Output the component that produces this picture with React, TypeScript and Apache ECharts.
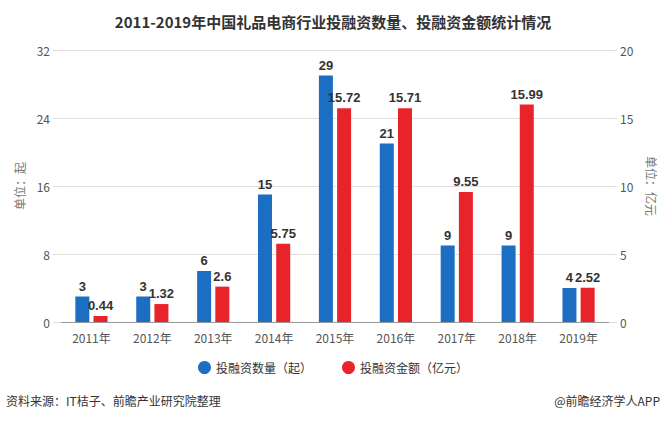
import React, { useEffect, useRef } from "react";
import * as echarts from "echarts";

const categories = ["2011年", "2012年", "2013年", "2014年", "2015年", "2016年", "2017年", "2018年", "2019年"];
const countValues = [3, 3, 6, 15, 29, 21, 9, 9, 4];
const amountValues = [0.44, 1.32, 2.6, 5.75, 15.72, 15.71, 9.55, 15.99, 2.52];
const leftTicks = { min: 0, max: 32, interval: 8 };
const rightTicks = { min: 0, max: 20, interval: 5 };

const FONT = "'Noto Sans CJK SC', 'Microsoft YaHei', sans-serif";

export default function App() {
  const ref = useRef<HTMLDivElement>(null);
  useEffect(() => {
    if (!ref.current) return;
    const chart = echarts.init(ref.current, undefined, { renderer: "svg" });
    const labelStyle = {
      show: true,
      position: "top" as const,
      color: "#333",
      fontWeight: "bold" as const,
      fontSize: 13,
      fontFamily: "Arial, sans-serif",
      distance: 4,
    };
    chart.setOption({
      animation: false,
      textStyle: { fontFamily: FONT },
      title: {
        text: "2011-2019年中国礼品电商行业投融资数量、投融资金额统计情况",
        left: "center",
        top: 9,
        textStyle: { fontSize: 15, fontWeight: "bold", color: "#333", fontFamily: FONT },
      },
      legend: {
        bottom: 43,
        left: "center",
        itemWidth: 13,
        itemHeight: 13,
        itemGap: 30,
        icon: "circle",
        textStyle: { fontSize: 12, color: "#333", fontFamily: FONT },
        data: ["投融资数量（起）", "投融资金额（亿元）"],
      },
      graphic: [
        {
          type: "text",
          left: 6,
          top: 394,
          style: { text: "资料来源：IT桔子、前瞻产业研究院整理", fontSize: 12, fill: "#333", fontFamily: FONT },
        },
        {
          type: "text",
          right: 6,
          top: 394,
          style: { text: "@前瞻经济学人APP", fontSize: 12, fill: "#333", fontFamily: FONT },
        },
      ],
      grid: { left: 61, right: 57, top: 50, bottom: 100 },
      xAxis: {
        type: "category",
        data: categories,
        axisLine: { lineStyle: { color: "#999" } },
        axisTick: { show: false },
        axisLabel: { color: "#555", fontSize: 12, margin: 9 },
      },
      yAxis: [
        {
          type: "value",
          ...leftTicks,
          name: "单位：起",
          nameLocation: "middle",
          nameGap: 36,
          nameRotate: 90,
          nameTextStyle: { color: "#777", fontSize: 12 },
          axisLine: { show: false },
          axisTick: { show: true, length: 8, lineStyle: { color: "#ddd" } },
          axisLabel: { color: "#555", fontSize: 12, margin: 11 },
          splitLine: { lineStyle: { color: "#e0e0e0" } },
        },
        {
          type: "value",
          ...rightTicks,
          name: "单位：亿元",
          nameLocation: "middle",
          nameGap: 36,
          nameRotate: -90,
          nameTextStyle: { color: "#777", fontSize: 12 },
          axisLine: { show: false },
          axisTick: { show: true, length: 8, lineStyle: { color: "#ddd" } },
          axisLabel: { color: "#555", fontSize: 12, margin: 11 },
          splitLine: { show: false },
        },
      ],
      series: [
        {
          name: "投融资数量（起）",
          type: "bar",
          yAxisIndex: 0,
          data: countValues,
          barWidth: 14,
          barGap: "30%",
          itemStyle: { color: "#1b6ec2" },
          label: labelStyle,
        },
        {
          name: "投融资金额（亿元）",
          type: "bar",
          yAxisIndex: 1,
          data: amountValues,
          barWidth: 14,
          barGap: "30%",
          itemStyle: { color: "#e8232a" },
          label: labelStyle,
        },
      ],
    });
    return () => chart.dispose();
  }, []);
  return (
    <div
      ref={ref}
      style={{ position: "fixed", left: 0, top: 0, width: 666, height: 422, background: "#fff" }}
    />
  );
}
